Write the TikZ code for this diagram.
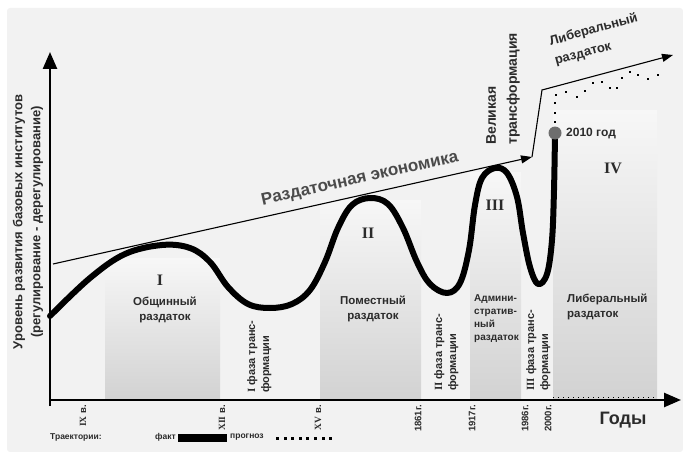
\documentclass[tikz,border=0pt]{standalone}
\usepackage{fontspec}
\setmainfont{Liberation Sans}
\newfontfamily\romfont{Liberation Serif}
\usetikzlibrary{arrows.meta,positioning}
\definecolor{bgc}{HTML}{F2F2F2}
\definecolor{txt}{HTML}{2B2B2B}
\definecolor{coltop}{HTML}{F7F7F7}
\definecolor{colbot}{HTML}{D2D2D2}
\definecolor{dotc}{HTML}{6E6E6E}
\tikzset{
  ax/.style    ={line width=2.5pt,-{Triangle[length=17pt,width=14pt]}},
  trend/.style ={line width=1.1pt,-{Triangle[length=11pt,width=8pt]}},
  fakt/.style  ={line width=6pt,line cap=round,line join=round},
  col/.style   ={top color=coltop,bottom color=colbot},
  region/.style={font=\bfseries\fontsize{11.5}{15}\selectfont,text=txt,
                 align=center,inner sep=0pt},
  phase/.style ={font=\bfseries\fontsize{11}{14}\selectfont,text=txt,
                 align=left,inner sep=0pt,rotate=90,anchor=north west},
  roman/.style ={font=\romfont\bfseries\fontsize{16}{18}\selectfont,text=txt,inner sep=0pt},
  tick/.style  ={font=\bfseries\fontsize{9.5}{11}\selectfont,text=txt,
                 inner sep=0pt,rotate=90,anchor=east},
  title/.style ={font=\bfseries\fontsize{#1}{#1}\selectfont,text=txt,inner sep=0pt},
  legend/.style={font=\bfseries\fontsize{8.5}{10}\selectfont,text=txt,inner sep=0pt},
}
\newcommand{\rn}[1]{{\romfont #1}}

\begin{document}
\begin{tikzpicture}[x=1pt,y=-1pt]
\useasboundingbox (0,0) rectangle (683,452);
\fill[bgc,rounded corners=3pt] (7,8) rectangle (683,452);
% columns
\shade[col] (105,258) rectangle (220,400);
\shade[col] (320,200) rectangle (421,400);
\shade[col] (470,172) rectangle (521,400);
\shade[col] (553,110) rectangle (657,400);
% axes
\coordinate (O) at (50,400);
\coordinate (ybot) at (50,406);
\coordinate (ytop) at (50,52);
\coordinate (xend) at (681,400);
\draw[ax] (ybot) -- (ytop);
\draw[ax] (O) -- (xend);
\coordinate (fa) at (553,397);
\coordinate (fb) at (657,397);
\draw[line width=1pt,dash pattern=on 1pt off 4pt] (fa) -- (fb);
% trend lines
\coordinate (r0) at (53,264);
\coordinate (r1) at (532,157);
\coordinate (r2) at (542,90);
\coordinate (r3) at (673,55);
\draw[trend] (r0) -- (r1);
\draw[trend] (r1) -- (r2) -- (r3);
\node[title=17,rotate=12.6,text=txt!85] (razd) at (360,179) {Раздаточная экономика};
\node[title=14,rotate=90,anchor=north west,align=left,
      font=\bfseries\fontsize{14}{21}\selectfont] (vel) at (486,145) {Великая\\трансформация};
\node[title=13,rotate=15.3,anchor=north west,align=left,
      font=\bfseries\fontsize{13}{20}\selectfont] (libtop) at (548,36) {Либеральный\\раздаток};
% trajectory
\draw[fakt] plot[smooth,tension=0.6] coordinates {
  (50,316) (90,278) (125,254) (162,245) (190,248) (210,262) (228,287)
  (248,304) (270,308) (292,304) (310,290) (325,262) (338,228) (352,205)
  (370,198) (388,204) (403,228) (417,262) (430,284) (447,293) (460,283)
  (469,250) (475,205) (482,178) (495,168) (507,173) (517,197) (523,233)
  (530,267) (538,284) (547,274) (552,240) (554,190) (555,134)};
% forecast
\foreach \p in {(555,122),(555,113),(555,103),(556,95),(566,92),(577,97),(585,91),
  (593,83),(602,82),(610,88),(617,88),(622,78),(630,72),(638,75),(648,79),(658,75)}
  \fill \p +(-1.4,-1.4) rectangle +(1.4,1.4);
\node[circle,fill=dotc,minimum size=13pt,inner sep=0pt] (y2010) at (555,133) {};
\node[title=12,anchor=west] (y2010l) at (566,134) {2010 год};
% roman numerals
\node[roman] (n1) at (160,280) {I};
\node[roman] (n2) at (368,233) {II};
\node[roman] (n3) at (495,205) {III};
\node[roman] (n4) at (613,168) {IV};
% region labels
\node[region] (obsh) at (165,310) {Общинный\\раздаток};
\node[region] (pom) at (373,309) {Поместный\\раздаток};
\node[region,anchor=north west,align=left,font=\bfseries\fontsize{10}{13}\selectfont]
  (adm) at (474,294) {Админи-\\стратив-\\ный\\раздаток};
\node[region,anchor=north west,align=left] (lib) at (567,294) {Либеральный\\раздаток};
\node[phase] (ph1) at (247,393) {\rn{I} фаза транс-\\формации};
\node[phase] (ph2) at (434,391) {\rn{II} фаза транс-\\формации};
\node[phase] (ph3) at (526,391) {\rn{III} фаза транс-\\формации};
% ticks
\node[tick] (t9) at (83,405) {\rn{IX} в.};
\node[tick] (t12) at (222,405) {\rn{XII} в.};
\node[tick] (t15) at (318,405) {\rn{XV} в.};
\node[tick] (t1861) at (418,405) {1861г.};
\node[tick] (t1917) at (472,405) {1917г.};
\node[tick] (t1986) at (525,405) {1986г.};
\node[tick] (t2000) at (548,405) {2000г.};
\node[title=18] (gody) at (623,420) {Годы};
% y label
\node[rotate=90,align=center,text=txt,inner sep=0pt,
      font=\bfseries\fontsize{13}{18}\selectfont] (ylab) at (28,222)
  {Уровень развития базовых институтов\\(регулирование - дерегулирование)};
% legend
\node[legend,anchor=west] (traj) at (50,437) {Траектории:};
\node[legend,anchor=east] (fl) at (176,437) {факт};
\fill (178,434) rectangle (227,442);
\node[legend,anchor=west] (pl) at (230,437) {прогноз};
\foreach \i in {0,...,7}
  \fill (276+7.6*\i,436.5) rectangle +(3,3);
\end{tikzpicture}
\end{document}
